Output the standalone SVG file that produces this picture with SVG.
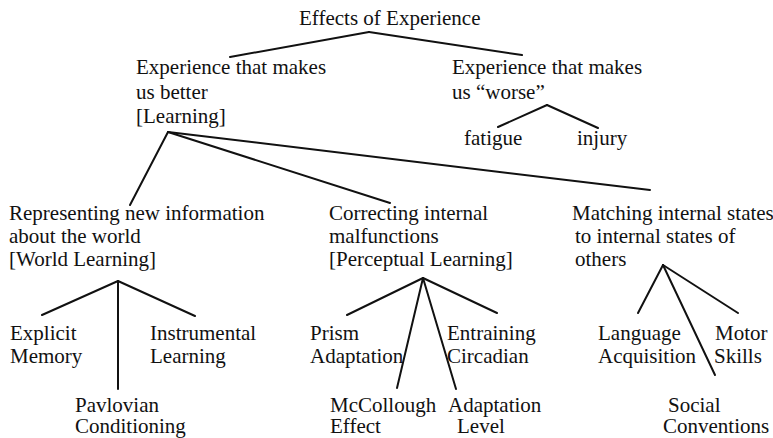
<svg xmlns="http://www.w3.org/2000/svg" width="773" height="438" viewBox="0 0 773 438">
<style>
text{font-family:"Liberation Serif","Times New Roman",serif;font-size:21px;fill:#111}
.c line{stroke:#111;stroke-width:2;stroke-linecap:round}
</style>
<rect width="773" height="438" fill="#fff"/>
<g class="c" id="connectors">
<line x1="369" y1="32" x2="230" y2="57"/>
<line x1="369" y1="32" x2="522" y2="55"/>
<line x1="547" y1="105" x2="498" y2="127"/>
<line x1="547" y1="105" x2="598" y2="128"/>
<line x1="168" y1="132" x2="130" y2="205"/>
<line x1="168" y1="132" x2="390" y2="203"/>
<line x1="168" y1="132" x2="650" y2="190"/>
<line x1="118" y1="281" x2="42" y2="315"/>
<line x1="118" y1="281" x2="118" y2="389"/>
<line x1="118" y1="281" x2="195" y2="316"/>
<line x1="423" y1="278" x2="347" y2="315"/>
<line x1="423" y1="278" x2="397" y2="388"/>
<line x1="423" y1="278" x2="456" y2="389"/>
<line x1="423" y1="278" x2="497" y2="313"/>
<line x1="663" y1="265" x2="638" y2="313"/>
<line x1="663" y1="265" x2="715" y2="375"/>
<line x1="663" y1="265" x2="738" y2="313"/>
</g>
<g id="root"><text x="299" y="25">Effects of Experience</text></g>
<g id="better"><text x="136" y="74">Experience that makes</text><text x="136" y="99">us better</text><text x="136" y="123">[Learning]</text></g>
<g id="worse"><text x="452" y="74">Experience that makes</text><text x="452" y="99">us “worse”</text></g>
<g id="fatigue"><text x="464" y="145">fatigue</text></g>
<g id="injury"><text x="577" y="145">injury</text></g>
<g id="world"><text x="9" y="220">Representing new information</text><text x="9" y="243">about the world</text><text x="9" y="266">[World Learning]</text></g>
<g id="perceptual"><text x="329" y="220">Correcting internal</text><text x="329" y="243">malfunctions</text><text x="329" y="266">[Perceptual Learning]</text></g>
<g id="matching"><text x="572" y="220">Matching internal states</text><text x="575" y="243">to internal states of</text><text x="575" y="266">others</text></g>
<g id="explicit"><text x="10" y="340">Explicit</text><text x="10" y="363">Memory</text></g>
<g id="instrumental"><text x="150" y="340">Instrumental</text><text x="150" y="363">Learning</text></g>
<g id="pavlovian"><text x="75" y="412">Pavlovian</text><text x="75" y="433">Conditioning</text></g>
<g id="prism"><text x="310" y="340">Prism</text><text x="310" y="363">Adaptation</text></g>
<g id="entraining"><text x="447" y="340">Entraining</text><text x="447" y="363">Circadian</text></g>
<g id="mccollough"><text x="330" y="412">McCollough</text><text x="330" y="433">Effect</text></g>
<g id="adaptlevel"><text x="448" y="412">Adaptation</text><text x="457" y="433">Level</text></g>
<g id="language"><text x="598" y="340">Language</text><text x="598" y="363">Acquisition</text></g>
<g id="motor"><text x="715" y="340">Motor</text><text x="714" y="363">Skills</text></g>
<g id="social"><text x="668" y="412">Social</text><text x="663" y="433">Conventions</text></g>
</svg>
